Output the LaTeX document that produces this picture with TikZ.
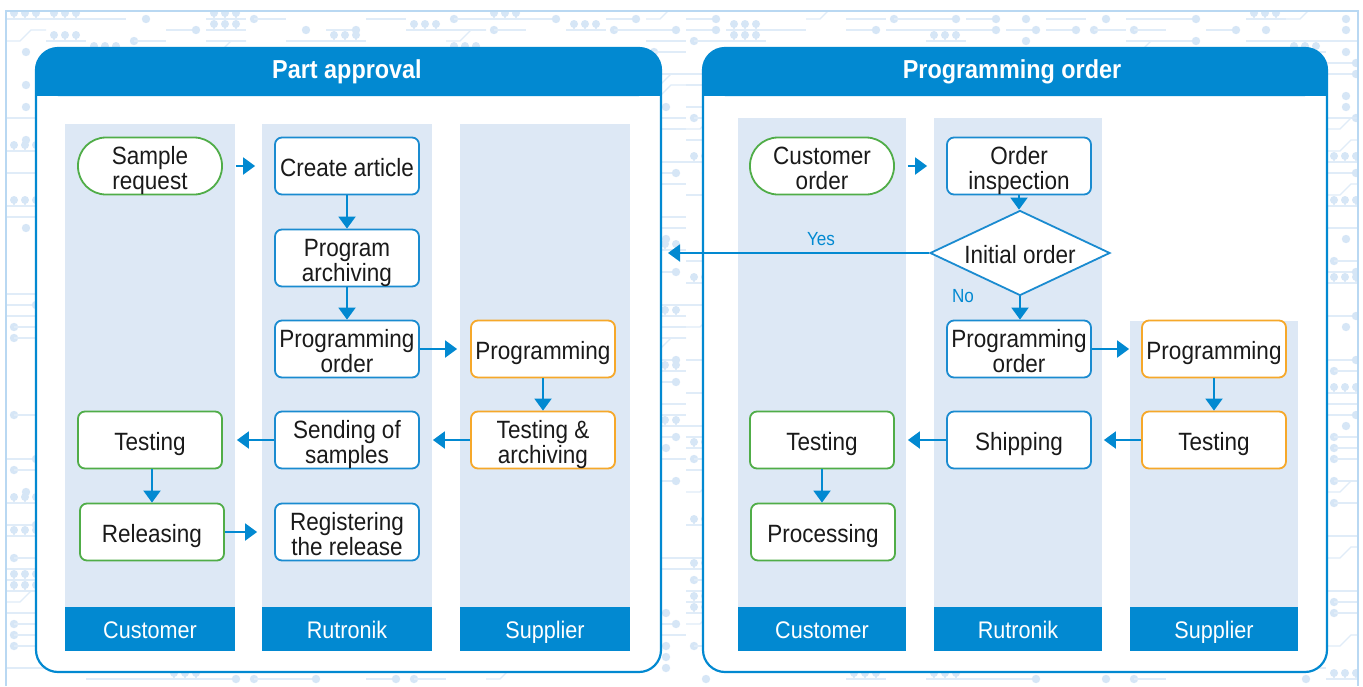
\documentclass[tikz,border=0pt]{standalone}
\usepackage{fontspec}
\setmainfont{Liberation Sans}[FakeStretch=0.9]
\usetikzlibrary{shapes.geometric,arrows.meta}
\definecolor{hdr}{HTML}{0289D1}
\definecolor{lanec}{HTML}{DDE8F5}
\definecolor{bbox}{HTML}{1A8BD0}
\definecolor{gbox}{HTML}{50AD48}
\definecolor{obox}{HTML}{F6A82A}
\definecolor{framec}{HTML}{B9D8F2}
\definecolor{tracec}{HTML}{E0ECF8}
\definecolor{padc}{HTML}{D6E6F6}
\definecolor{txt}{HTML}{1A1A1A}
\newcommand\boxline[1]{\rule[-1pt]{0pt}{23pt}\smash{#1}}
\tikzset{
  trace/.style={draw=tracec,line width=1.3},
  pad/.style={fill=padc},
  stepbox/.style={rectangle,rounded corners=7,draw=bbox,line width=1.8,fill=white,
    minimum width=144,minimum height=57,inner sep=0,align=center,text=txt,
    font=\fontsize{25}{25}\selectfont},
  bluebox/.style={stepbox,draw=bbox},
  greenbox/.style={stepbox,draw=gbox},
  orangebox/.style={stepbox,draw=obox},
  startbox/.style={stepbox,draw=gbox,rounded corners=28},
  decide/.style={diamond,draw=bbox,line width=1.8,fill=white,aspect=2.1,
    minimum width=180,minimum height=85,inner sep=0,text=txt,
    font=\fontsize{25}{25}\selectfont},
  lanelabel/.style={rectangle,fill=hdr,text=white,minimum width=170,minimum height=44,
    inner sep=0,text height=19pt,text depth=1pt,font=\fontsize{24}{24}\selectfont},
  titletext/.style={text=white,inner sep=0,font=\fontsize{26}{26}\selectfont\bfseries},
  arr/.style={draw=hdr,line width=2,-{Triangle[width=17pt,length=12pt]}},
  yn/.style={text=hdr,inner sep=0,font=\fontsize{19}{19}\selectfont},
  panelline/.style={draw=hdr,line width=2.2,rounded corners=22},
}
\begin{document}
\begin{tikzpicture}[x=1pt,y=-1pt]
\useasboundingbox (0,0) rectangle (1363,686);
\fill[white] (0,0) rectangle (1363,686);
% circuit pattern
\begin{scope}
\clip (7,12) rectangle (1357,686);
\pgfmathsetseed{11}
\foreach \y in {19,30,...,685}{
  \foreach \x in {6,46,...,1346}{
    \pgfmathrandominteger{\r}{0}{8}
    \ifcase\r
      \draw[trace] (\x,\y) -- ++(30,0); \fill[pad] (\x+30,\y) circle (4.2);
    \or
      \fill[pad] (\x+8,\y) circle (4.2); \draw[trace] (\x+8,\y) -- ++(32,0);
    \or
      \draw[trace] (\x,\y) -- ++(40,0);
    \or
      \draw[trace] (\x,\y) -- ++(40,0);
      \foreach \k in {8,19,30}{\draw[trace] (\x+\k,\y) -- ++(0,-6); \fill[pad] (\x+\k,\y-6) circle (4);}
    \or
      \draw[trace] (\x,\y) -- ++(14,0) -- ++(11,-11) -- ++(15,0);
    \or
      \fill[pad] (\x+20,\y) circle (4.2);
    \else
    \fi
  }
}
\end{scope}
\draw[framec,line width=2.5] (6,686) -- (6,11) -- (1358,11) -- (1358,686);

% panels
\fill[white,rounded corners=22] (36,48) rectangle (661,672);
\fill[hdr,rounded corners=22] (36,48) rectangle (661,96);
\fill[hdr] (36,72) rectangle (661,96);
\draw[panelline] (36,48) rectangle (661,672);
\node[titletext] (t1) at (347,72) {Part approval};

\fill[white,rounded corners=22] (703,48) rectangle (1327,672);
\fill[hdr,rounded corners=22] (703,48) rectangle (1327,96);
\fill[hdr] (703,72) rectangle (1327,96);
\draw[panelline] (703,48) rectangle (1327,672);
\node[titletext] (t2) at (1012,72) {Programming order};

% lanes left
\fill[lanec] (65,124) rectangle (235,607);
\fill[lanec] (262,124) rectangle (432,607);
\fill[lanec] (460,124) rectangle (630,607);
\node[lanelabel] (l1) at (150,629) {Customer};
\node[lanelabel] (l2) at (347,629) {Rutronik};
\node[lanelabel] (l3) at (545,629) {Supplier};
% lanes right
\fill[lanec] (738,118) rectangle (906,607);
\fill[lanec] (934,118) rectangle (1102,607);
\fill[lanec] (1130,321) rectangle (1298,607);
\node[lanelabel,minimum width=168] (r1) at (822,629) {Customer};
\node[lanelabel,minimum width=168] (r2) at (1018,629) {Rutronik};
\node[lanelabel,minimum width=168] (r3) at (1214,629) {Supplier};

% left nodes
\node[startbox] (sr) at (150,166) {\boxline{Sample}\\\boxline{request}};
\node[bluebox] (ca) at (347,166) {\boxline{Create article}};
\node[bluebox] (pa) at (347,258) {\boxline{Program}\\\boxline{archiving}};
\node[bluebox] (po) at (347,349) {\boxline{Programming}\\\boxline{order}};
\node[orangebox] (pg) at (543,349) {\boxline{Programming}};
\node[orangebox] (ta) at (543,440) {\boxline{Testing \&}\\\boxline{archiving}};
\node[bluebox] (ss) at (347,440) {\boxline{Sending of}\\\boxline{samples}};
\node[greenbox] (tc) at (150,440) {\boxline{Testing}};
\node[greenbox] (rl) at (152,532) {\boxline{Releasing}};
\node[bluebox] (rr) at (347,532) {\boxline{Registering}\\\boxline{the release}};

\draw[arr,shorten <=13,shorten >=19] (sr) -- (ca);
\draw[arr] (ca) -- (pa);
\draw[arr] (pa) -- (po);
\draw[arr,shorten >=13] (po) -- (pg);
\draw[arr] (pg) -- (ta);
\draw[arr,shorten >=13] (ta) -- (ss);
\draw[arr,shorten >=14] (ss) -- (tc);
\draw[arr] (tc.south -| rl.north) -- (rl.north);
\draw[arr,shorten >=17] (rl) -- (rr);

% right nodes
\node[startbox] (co) at (822,166) {\boxline{Customer}\\\boxline{order}};
\node[bluebox] (oi) at (1019,166) {\boxline{Order}\\\boxline{inspection}};
\node[decide] (io) at (1020,253) {\boxline{Initial order}};
\node[bluebox] (po2) at (1019,349) {\boxline{Programming}\\\boxline{order}};
\node[orangebox] (pg2) at (1214,349) {\boxline{Programming}};
\node[orangebox] (ts2) at (1214,440) {\boxline{Testing}};
\node[bluebox] (sh) at (1019,440) {\boxline{Shipping}};
\node[greenbox] (tc2) at (822,440) {\boxline{Testing}};
\node[greenbox] (pr) at (823,532) {\boxline{Processing}};
\coordinate (yesend) at (668,253);

\draw[arr,shorten <=13,shorten >=19] (co) -- (oi);
\draw[arr] (oi.south) -- (oi.south |- io.north);
\draw[arr] (io.west) -- (yesend);
\node[yn] (yes) at (821,239) {Yes};
\draw[arr] (io.south) -- (io.south |- po2.north);
\node[yn] (no) at (963,296) {No};
\draw[arr,shorten >=12] (po2) -- (pg2);
\draw[arr] (pg2) -- (ts2);
\draw[arr,shorten >=12] (ts2) -- (sh);
\draw[arr,shorten >=13] (sh) -- (tc2);
\draw[arr] (tc2.south) -- (tc2.south |- pr.north);
\end{tikzpicture}
\end{document}
